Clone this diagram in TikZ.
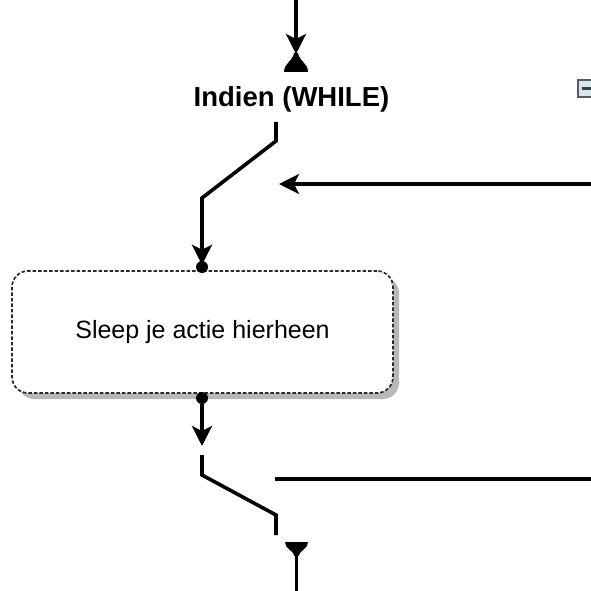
\documentclass[tikz,border=0pt]{standalone}
\usepackage{fontspec}
\setmainfont{Liberation Sans}
\usetikzlibrary{arrows.meta,shadows}
\definecolor{bordergray}{HTML}{2A2A2A}
\definecolor{shadowgray}{HTML}{B8B8B8}
\definecolor{iconfill}{HTML}{D5E6F0}
\definecolor{icongray}{HTML}{5A5A5A}
\tikzset{
  conn/.style={line width=3.6pt, black},
  arr/.style={conn, -{Stealth[length=20pt,width=20pt,inset=5pt]}},
  dotnode/.style={circle, fill=black, inner sep=0pt, minimum size=12pt},
  bell/.style={fill=black, draw=none},
  actionbox/.style={draw=bordergray, dashed, dash pattern=on 3.5pt off 2pt, line width=1.7pt,
    rounded corners=16pt, fill=white, minimum width=381pt, minimum height=122pt,
    font=\fontsize{25pt}{30pt}\selectfont,
    drop shadow={shadow xshift=6pt, shadow yshift=-6pt, fill=shadowgray, opacity=1}},
  labeltext/.style={font=\fontsize{27.5pt}{32pt}\selectfont\bfseries}
}
\begin{document}
\begin{tikzpicture}[x=1pt,y=-1pt]
\useasboundingbox (0,0) rectangle (591,591);
% top incoming arrow and bell
\coordinate (tin) at (296,0);
\coordinate (ttip) at (296,54);
\draw[arr] (tin) -- (ttip);
\fill[bell] (284,72) .. controls (284,63) and (293,61) .. (294,53) -- (298,53) .. controls (299,61) and (308,63) .. (308,72) -- cycle;
% label
\node[labeltext] (lbl) at (291.5,99) {Indien (WHILE)};
% collapse icon
\draw[icongray, fill=iconfill, line width=2pt] (578,80.5) rectangle (596,97);
\draw[icongray!70!black, line width=2.5pt] (581.5,88.75) -- (592,88.75);
% top switch
\coordinate (s1) at (276,122);
\coordinate (s2) at (276,141);
\coordinate (s3) at (202,198);
\node[actionbox] (box) at (202.5,332) {Sleep je actie hierheen};
\node[dotnode] (dtop) at (202,267) {};
\node[dotnode] (dbot) at (202,398) {};
\draw[conn] (s1) -- (s2) -- (s3) -- (202,245);
\draw[arr] (s3) -- ([yshift=-4pt]dtop.north);
% horizontal loop-back arrow
\coordinate (hin) at (591,184);
\coordinate (htip) at (279,184);
\draw[arr] (hin) -- (htip);
% bottom arrow
\coordinate (btip) at (202,446);
\draw[arr] (dbot) -- (btip);
% bottom switch
\coordinate (b1) at (202,455);
\coordinate (b2) at (202,475);
\coordinate (b3) at (276,515);
\coordinate (b4) at (276,535);
\draw[conn] (b1) -- (b2) -- (b3) -- (b4);
\coordinate (hl1) at (275,479);
\coordinate (hl2) at (591,479);
\draw[conn] (hl1) -- (hl2);
% bottom inverted bell and outgoing line
\fill[bell] (285,542) -- (308,542) .. controls (308,549) and (300,550) .. (298.5,556) -- (294.5,556) .. controls (293,550) and (285,549) .. (285,542) -- cycle;
\coordinate (bout1) at (296.5,553);
\coordinate (bout2) at (296.5,591);
\draw[conn] (bout1) -- (bout2);
\end{tikzpicture}
\end{document}
